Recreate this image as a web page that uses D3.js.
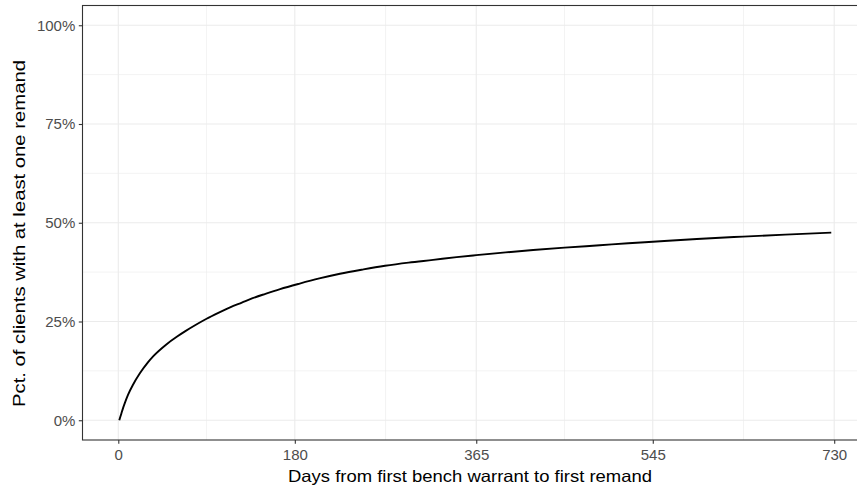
<!DOCTYPE html>
<html>
<head>
<meta charset="utf-8">
<script src="https://cdn.jsdelivr.net/npm/d3@7"></script>
<style>
  body { margin: 0; background: #fff; }
  svg { display: block; font-family: "Liberation Sans", Arial, sans-serif; }
</style>
</head>
<body>
<div id="chart"></div>
<script>
// days since first bench warrant, and cumulative share remanded (%)
const days = [1, 3, 5, 7, 10, 15, 22, 30, 36, 49, 60, 68, 80, 90, 102, 114, 126, 137, 150, 165,
  185, 205, 226, 250, 272, 296, 321, 345, 365, 395, 423, 455, 491, 520, 545, 590, 637, 680, 727];
const pct = [0, 1.6, 3.2, 4.6, 6.5, 9.0, 11.9, 14.6, 16.3, 19.2, 21.2, 22.5, 24.3, 25.7, 27.2, 28.6, 29.8, 30.9, 32.0, 33.2,
  34.6, 35.9, 37.1, 38.2, 39.1, 39.9, 40.6, 41.3, 41.8, 42.5, 43.1, 43.7, 44.3, 44.8, 45.2, 45.9, 46.5, 47.0, 47.5];

const xTicks = [0, 180, 365, 545, 730];
const xMinor = [90, 272.5, 455, 637.5];
const yTicks = [0, 25, 50, 75, 100];
const yMinor = [12.5, 37.5, 62.5, 87.5];

const width = 857, height = 487;
const margin = {t: 5.5, l: 82.5, b: 47};

const svg = d3.select("#chart").append("svg")
    .attr("width", width)
    .attr("height", height);

// 0..730 with 5% padding either side (panel runs off the right edge)
const x = d3.scaleLinear()
    .domain([0 - 36.5, 730 + 36.5])
    .range([margin.l, margin.l + 787.5]);
const y = d3.scaleLinear()
    .domain([-5, 105])
    .range([height - margin.b, margin.t]);

const panel = svg.append("g");

// minor grid
panel.selectAll(".xminor").data(xMinor).join("line")
    .attr("x1", d => x(d)).attr("x2", d => x(d))
    .attr("y1", y(-5)).attr("y2", y(105))
    .attr("stroke", "#ebebeb").attr("stroke-width", 0.6);
panel.selectAll(".yminor").data(yMinor).join("line")
    .attr("x1", x.range()[0]).attr("x2", x.range()[1])
    .attr("y1", d => y(d)).attr("y2", d => y(d))
    .attr("stroke", "#ebebeb").attr("stroke-width", 0.6);

// major grid
panel.selectAll(".xmajor").data(xTicks).join("line")
    .attr("x1", d => x(d)).attr("x2", d => x(d))
    .attr("y1", y(-5)).attr("y2", y(105))
    .attr("stroke", "#ebebeb").attr("stroke-width", 1.1);
panel.selectAll(".ymajor").data(yTicks).join("line")
    .attr("x1", x.range()[0]).attr("x2", x.range()[1])
    .attr("y1", d => y(d)).attr("y2", d => y(d))
    .attr("stroke", "#ebebeb").attr("stroke-width", 1.1);

// the curve
const line = d3.line()
    .x((d, i) => x(days[i]))
    .y(d => y(d))
    .curve(d3.curveMonotoneX);
svg.append("path")
    .datum(pct)
    .attr("d", line)
    .attr("fill", "none")
    .attr("stroke", "#000")
    .attr("stroke-width", 1.9)
    .attr("stroke-linejoin", "round");

// border
svg.append("rect")
    .attr("x", x.range()[0])
    .attr("y", y(105))
    .attr("width", x.range()[1] - x.range()[0])
    .attr("height", y(-5) - y(105))
    .attr("fill", "none")
    .attr("stroke", "#333333")
    .attr("stroke-width", 1.1);

// axes
const styleAxis = g => {
    g.select(".domain").remove();
    g.selectAll("line").attr("stroke", "#333333").attr("stroke-width", 1.1);
    g.selectAll("text").attr("fill", "#4d4d4d")
        .style("font-size", "15px")
        .style("font-family", "'Liberation Sans', Arial, sans-serif");
};

svg.append("g")
    .attr("transform", `translate(0, ${y(-5)})`)
    .call(d3.axisBottom(x).tickValues(xTicks).tickSize(3.7).tickPadding(5.5))
    .call(styleAxis);

svg.append("g")
    .attr("transform", `translate(${x.range()[0]}, 0)`)
    .call(d3.axisLeft(y).tickValues(yTicks).tickSize(3.7).tickPadding(3.5).tickFormat(d => d + "%"))
    .call(styleAxis);

// titles (stretched a little to the width of the original's wider glyphs)
svg.append("text")
    .attr("x", 470)
    .attr("y", 482)
    .attr("text-anchor", "middle")
    .attr("textLength", 364)
    .attr("lengthAdjust", "spacingAndGlyphs")
    .style("font-size", "16.5px")
    .text("Days from first bench warrant to first remand");

svg.append("text")
    .attr("transform", "translate(25, 233.5) rotate(-90)")
    .attr("text-anchor", "middle")
    .attr("textLength", 347)
    .attr("lengthAdjust", "spacingAndGlyphs")
    .style("font-size", "16.5px")
    .text("Pct. of clients with at least one remand");
</script>
</body>
</html>
